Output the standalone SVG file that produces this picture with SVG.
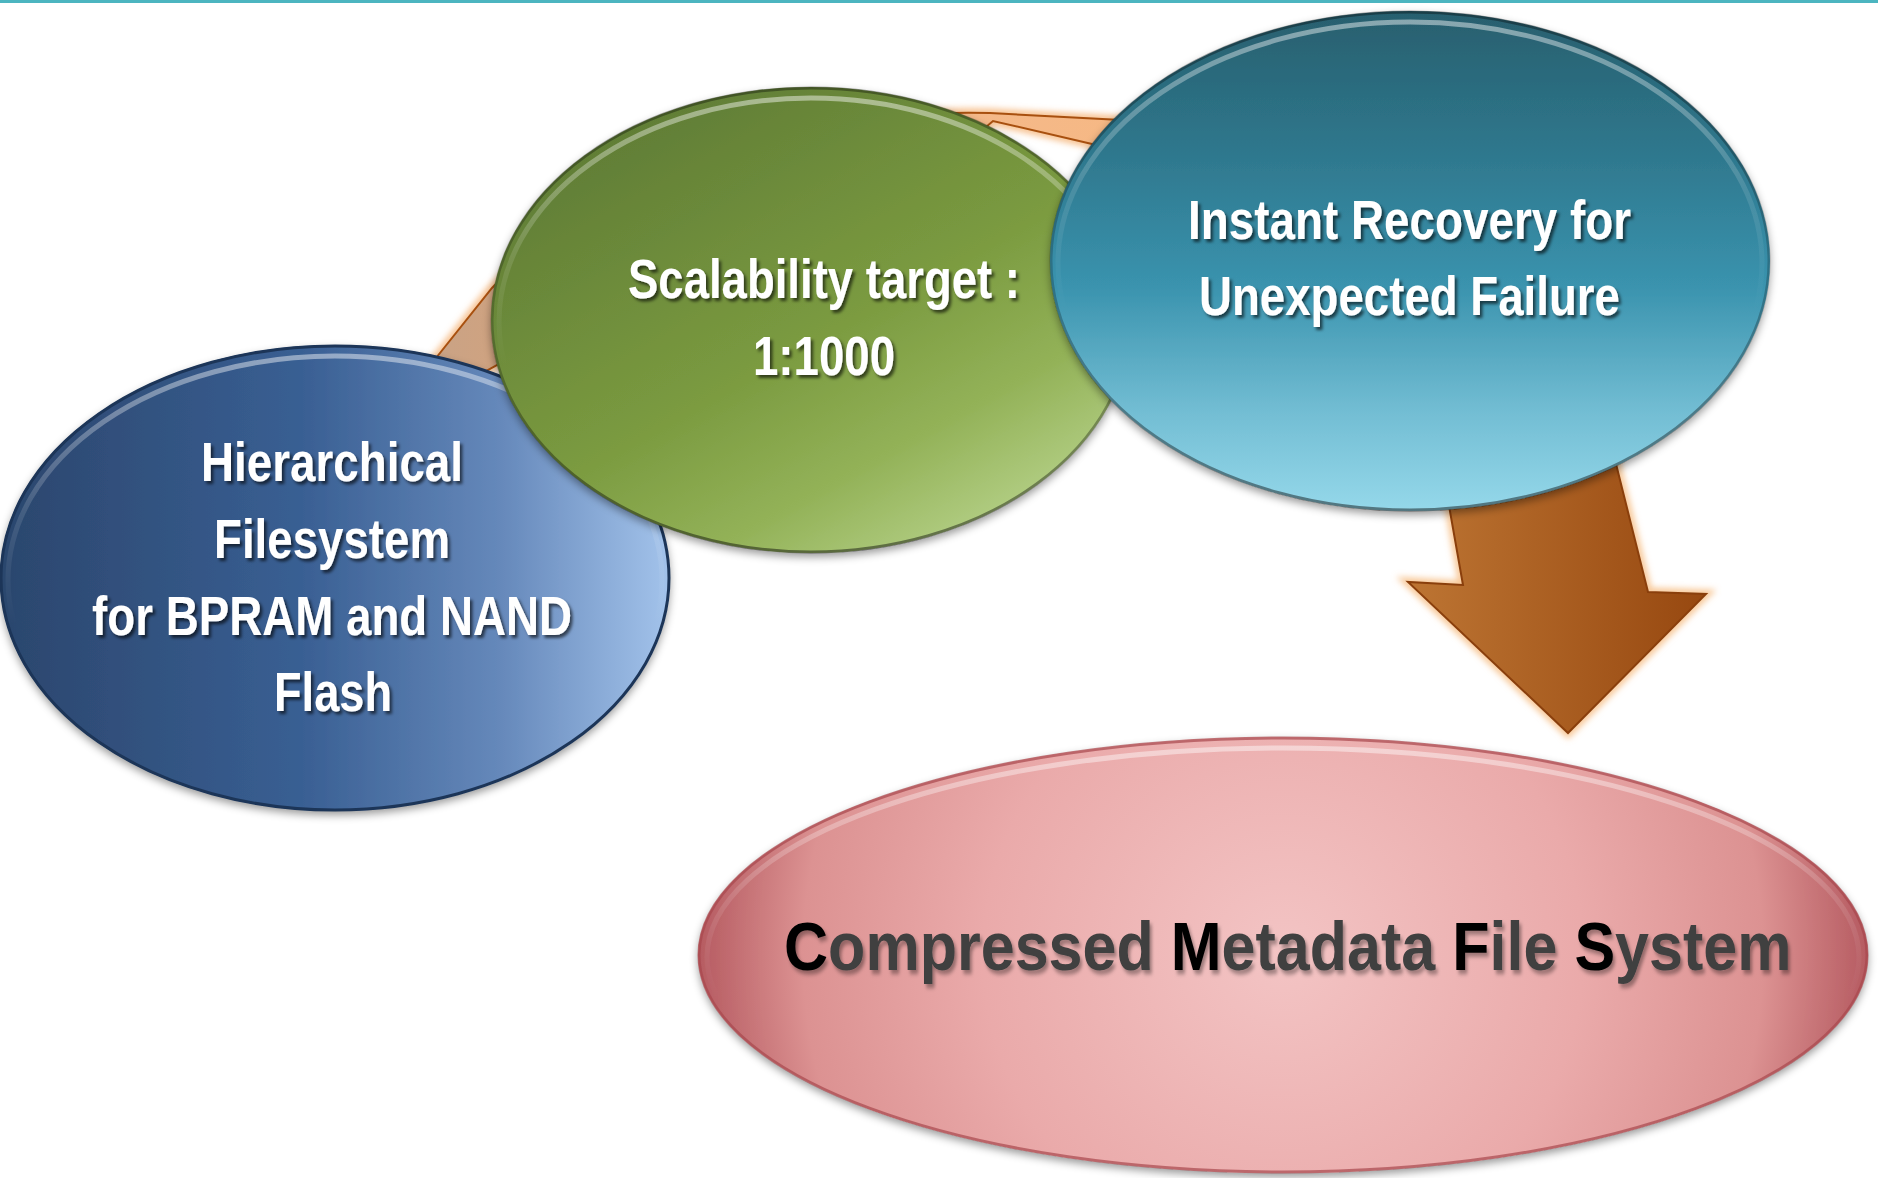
<svg xmlns="http://www.w3.org/2000/svg" width="1878" height="1178" viewBox="0 0 1878 1178">
  <defs>
    <style>
      .lbl { font-family: "Liberation Sans", Arial, sans-serif; font-weight: bold; }
      .white { fill: #ffffff; font-size: 56px; filter: url(#txtShadow); }
      .pinkTxt { fill: #3f3f3f; font-size: 68px; filter: url(#txtShadowSoft); }
      .blk { fill: #000000; }
      .rimHi { fill: none; stroke-width: 5; }
      .rimDark { fill: none; stroke-width: 3; }
    </style>

    <!-- node fills -->
    <linearGradient id="gBlue" x1="0" y1="0" x2="1" y2="0">
      <stop offset="0" stop-color="#2b466d"/>
      <stop offset="0.45" stop-color="#395f93"/>
      <stop offset="0.75" stop-color="#6689bb"/>
      <stop offset="1" stop-color="#a3c3eb"/>
    </linearGradient>
    <linearGradient id="gGreen" x1="0.2" y1="0.1" x2="0.85" y2="0.95">
      <stop offset="0" stop-color="#617e36"/>
      <stop offset="0.5" stop-color="#7b9b40"/>
      <stop offset="0.75" stop-color="#93b258"/>
      <stop offset="1" stop-color="#b9d48d"/>
    </linearGradient>
    <linearGradient id="gTeal" x1="0" y1="0" x2="0" y2="1">
      <stop offset="0" stop-color="#285f6e"/>
      <stop offset="0.3" stop-color="#2f798f"/>
      <stop offset="0.55" stop-color="#3a93ae"/>
      <stop offset="0.8" stop-color="#72bdd3"/>
      <stop offset="1" stop-color="#95d8ea"/>
    </linearGradient>
    <radialGradient id="gPink" gradientUnits="userSpaceOnUse" cx="1283" cy="955" r="600">
      <stop offset="0" stop-color="#f3c4c4"/>
      <stop offset="0.5" stop-color="#eaaaaa"/>
      <stop offset="0.8" stop-color="#dc9292"/>
      <stop offset="1" stop-color="#b0535a"/>
    </radialGradient>
    <linearGradient id="gArrow" x1="0" y1="0" x2="1" y2="0">
      <stop offset="0" stop-color="#bd7533"/>
      <stop offset="1" stop-color="#974810"/>
    </linearGradient>
    <linearGradient id="gBand" gradientUnits="userSpaceOnUse" x1="430" y1="0" x2="1130" y2="0">
      <stop offset="0" stop-color="#c9a386"/>
      <stop offset="0.2" stop-color="#d6a27a"/>
      <stop offset="0.75" stop-color="#f4b98a"/>
      <stop offset="1" stop-color="#f6b884"/>
    </linearGradient>

    <!-- bevel rims: light on top, dark on bottom -->
    <linearGradient id="hiRim" x1="0" y1="0" x2="0" y2="1">
      <stop offset="0" stop-color="#ffffff" stop-opacity="0.45"/>
      <stop offset="0.35" stop-color="#ffffff" stop-opacity="0.12"/>
      <stop offset="0.6" stop-color="#ffffff" stop-opacity="0"/>
    </linearGradient>
    <linearGradient id="darkRim" x1="0" y1="0" x2="0" y2="1">
      <stop offset="0" stop-color="#000000" stop-opacity="0.35"/>
      <stop offset="0.5" stop-color="#000000" stop-opacity="0.2"/>
      <stop offset="1" stop-color="#000000" stop-opacity="0.45"/>
    </linearGradient>

    <filter id="nodeShadow" x="-10%" y="-10%" width="120%" height="125%">
      <feDropShadow dx="0" dy="4" stdDeviation="4" flood-color="#000000" flood-opacity="0.4"/>
    </filter>
    <filter id="txtShadow" x="-5%" y="-20%" width="115%" height="150%">
      <feDropShadow dx="2.5" dy="3" stdDeviation="1.6" flood-color="#000000" flood-opacity="0.6"/>
    </filter>
    <filter id="txtShadowSoft" x="-5%" y="-20%" width="115%" height="150%">
      <feDropShadow dx="2.5" dy="4" stdDeviation="2" flood-color="#000000" flood-opacity="0.35"/>
    </filter>
    <filter id="glow" x="-20%" y="-20%" width="140%" height="140%">
      <feGaussianBlur stdDeviation="3"/>
    </filter>
  </defs>

  <rect x="0" y="0" width="1878" height="1178" fill="#ffffff"/>
  <!-- top rule -->
  <rect x="0" y="0" width="1878" height="3" fill="#4cb5c0"/>

  <g id="connectors">
    <!-- curved band running behind the three upper nodes -->
    <g id="cycle-band">
      <path d="M 428,368 L 492,288 C 600,170 800,108 990,113 L 1140,121 L 1140,152 L 1092,144 L 993,121 L 900,200 C 700,250 560,330 470,380 Z"
            fill="none" stroke="#f4a862" stroke-width="9" stroke-opacity="0.7" filter="url(#glow)"/>
      <path d="M 428,368 L 492,288 C 600,170 800,108 990,113 L 1140,121 L 1140,152 L 1092,144 L 993,121 L 900,200 C 700,250 560,330 470,380 Z"
            fill="url(#gBand)" stroke="#a8500f" stroke-width="2"/>
    </g>
    <!-- block arrow down to the result node -->
    <g id="down-arrow">
      <path d="M 1448,500 L 1463,585 L 1408,582 L 1568,733 L 1706,594 L 1648,592 L 1615,460 Z"
            fill="none" stroke="#f5b575" stroke-width="9" stroke-opacity="0.75" filter="url(#glow)"/>
      <path d="M 1448,500 L 1463,585 L 1408,582 L 1568,733 L 1706,594 L 1648,592 L 1615,460 Z"
            fill="url(#gArrow)" stroke="#8a3f0c" stroke-width="2" stroke-linejoin="miter"/>
    </g>
  </g>

  <g id="node-hierarchical">
    <ellipse cx="335" cy="578" rx="335" ry="233" fill="url(#gBlue)" filter="url(#nodeShadow)"/>
    <ellipse cx="335" cy="578" rx="334" ry="232" class="rimDark" stroke="#1c3558"/>
    <ellipse cx="335" cy="580" rx="327" ry="224" class="rimHi" stroke="url(#hiRim)"/>
    <text class="lbl white" x="201" y="481" textLength="262" lengthAdjust="spacingAndGlyphs">Hierarchical</text>
    <text class="lbl white" x="214" y="558" textLength="236" lengthAdjust="spacingAndGlyphs">Filesystem</text>
    <text class="lbl white" x="92" y="635" textLength="480" lengthAdjust="spacingAndGlyphs">for BPRAM and NAND</text>
    <text class="lbl white" x="274" y="711" textLength="118" lengthAdjust="spacingAndGlyphs">Flash</text>
  </g>

  <g id="node-scalability">
    <ellipse cx="811" cy="320" rx="320" ry="233" fill="url(#gGreen)" filter="url(#nodeShadow)"/>
    <ellipse cx="811" cy="320" rx="319" ry="232" class="rimDark" stroke="url(#darkRim)"/>
    <ellipse cx="811" cy="322" rx="312" ry="224" class="rimHi" stroke="url(#hiRim)"/>
    <text class="lbl white" x="628" y="298" textLength="392" lengthAdjust="spacingAndGlyphs">Scalability target :</text>
    <text class="lbl white" x="753" y="375" textLength="142" lengthAdjust="spacingAndGlyphs">1:1000</text>
  </g>

  <g id="node-recovery">
    <ellipse cx="1410" cy="261" rx="360" ry="250" fill="url(#gTeal)" filter="url(#nodeShadow)"/>
    <ellipse cx="1410" cy="261" rx="359" ry="249" class="rimDark" stroke="url(#darkRim)"/>
    <ellipse cx="1410" cy="263" rx="352" ry="241" class="rimHi" stroke="url(#hiRim)"/>
    <text class="lbl white" x="1188" y="239" textLength="443" lengthAdjust="spacingAndGlyphs">Instant Recovery for</text>
    <text class="lbl white" x="1199" y="315" textLength="421" lengthAdjust="spacingAndGlyphs">Unexpected Failure</text>
  </g>

  <g id="node-cmfs">
    <ellipse cx="1283" cy="955" rx="585" ry="218" fill="url(#gPink)" filter="url(#nodeShadow)"/>
    <ellipse cx="1283" cy="955" rx="584" ry="217" class="rimDark" stroke="#a8474d" stroke-opacity="0.7"/>
    <ellipse cx="1283" cy="957" rx="576" ry="209" class="rimHi" stroke="url(#hiRim)"/>
    <text class="lbl pinkTxt" transform="translate(784,970) scale(0.8977,1)" x="0" y="0"><tspan class="blk">C</tspan>ompressed <tspan class="blk">M</tspan>etadata <tspan class="blk">F</tspan>ile <tspan class="blk">S</tspan>ystem</text>
  </g>
</svg>
